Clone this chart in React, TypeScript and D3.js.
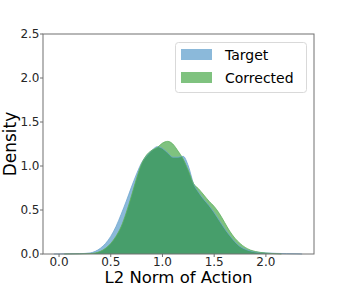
import React from 'react';
import * as d3 from 'd3';

const targetX = [-0.05, 0.0, 0.1, 0.2, 0.3, 0.35, 0.4, 0.45, 0.5, 0.55, 0.6, 0.65, 0.7, 0.75, 0.8, 0.85, 0.9, 0.95, 1.0, 1.05, 1.1, 1.15, 1.2, 1.25, 1.3, 1.35, 1.4, 1.45, 1.5, 1.55, 1.6, 1.65, 1.7, 1.75, 1.8, 1.85, 1.9, 2.0, 2.1, 2.2, 2.3, 2.35];
const targetY = [0, 0.001, 0.002, 0.004, 0.012, 0.03, 0.065, 0.12, 0.2, 0.31, 0.45, 0.6, 0.76, 0.91, 1.04, 1.12, 1.18, 1.22, 1.2, 1.15, 1.1, 1.1, 1.11, 1.0, 0.8, 0.7, 0.62, 0.55, 0.47, 0.38, 0.29, 0.21, 0.14, 0.085, 0.055, 0.035, 0.022, 0.012, 0.007, 0.004, 0.002, 0];

const correctedX = [0.05, 0.2, 0.3, 0.35, 0.4, 0.45, 0.5, 0.55, 0.6, 0.65, 0.7, 0.75, 0.8, 0.85, 0.9, 0.95, 1.0, 1.05, 1.1, 1.15, 1.2, 1.25, 1.3, 1.35, 1.4, 1.45, 1.5, 1.55, 1.6, 1.65, 1.7, 1.75, 1.8, 1.85, 1.9, 2.0, 2.1, 2.15];
const correctedY = [0, 0.002, 0.005, 0.012, 0.03, 0.065, 0.12, 0.2, 0.31, 0.47, 0.66, 0.86, 1.03, 1.13, 1.18, 1.21, 1.26, 1.28, 1.25, 1.17, 1.08, 0.95, 0.8, 0.74, 0.67, 0.6, 0.54, 0.46, 0.36, 0.26, 0.18, 0.12, 0.075, 0.045, 0.028, 0.011, 0.003, 0];

const xTicks = [0.0, 0.5, 1.0, 1.5, 2.0];
const yTicks = [0.0, 0.5, 1.0, 1.5, 2.0, 2.5];
const legendLabels = ['Target', 'Corrected'];

const W = 349;
const H = 286;
const left = 43, right = 314, top = 34, bottom = 254;

export default function App() {
  const x = d3.scaleLinear().domain([-0.155, 2.465]).range([left, right]);
  const y = d3.scaleLinear().domain([0, 2.5]).range([bottom, top]);

  const area = d3.area<[number, number]>()
    .x(d => x(d[0]))
    .y0(y(0))
    .y1(d => y(d[1]))
    .curve(d3.curveMonotoneX);
  const line = d3.line<[number, number]>()
    .x(d => x(d[0]))
    .y(d => y(d[1]))
    .curve(d3.curveMonotoneX);

  const target = targetX.map((v, i) => [v, targetY[i]] as [number, number]);
  const corrected = correctedX.map((v, i) => [v, correctedY[i]] as [number, number]);

  const font = 'DejaVu Sans, sans-serif';
  const legendColors = ['#8bb9da', '#7fc27f'];

  return (
    <svg width={W} height={H} style={{ position: 'absolute', left: 0, top: 0, background: '#fff' }} fontFamily={font}>
      <defs>
        <clipPath id="targetClip">
          <path d={area(target) || ''} />
        </clipPath>
      </defs>
      <path d={area(target) || ''} fill="#8bb9da" />
      <path d={area(corrected) || ''} fill="#7fc27f" />
      <path d={area(corrected) || ''} fill="#479e6b" clipPath="url(#targetClip)" />
      <path d={line(target) || ''} fill="none" stroke="#6fa6cf" strokeWidth={0.8} />
      <path d={line(corrected) || ''} fill="none" stroke="#5fb05f" strokeWidth={0.8} />

      {/* spines */}
      <rect x={left} y={top} width={right - left} height={bottom - top} fill="none" stroke="#707070" strokeWidth={1} />

      {xTicks.map(t => (
        <g key={'x' + t}>
          <line x1={x(t)} x2={x(t)} y1={bottom} y2={bottom + 3} stroke="#707070" />
          <text x={x(t)} y={265.5} fontSize={12} textAnchor="middle" fill="#262626">{t.toFixed(1)}</text>
        </g>
      ))}
      {yTicks.map(t => (
        <g key={'y' + t}>
          <line x1={left - 3} x2={left} y1={y(t)} y2={y(t)} stroke="#707070" />
          <text x={39.5} y={y(t)} dy="0.36em" fontSize={12} textAnchor="end" fill="#262626">{t.toFixed(1)}</text>
        </g>
      ))}

      <text x={(left + right) / 2} y={282.5} fontSize={16.5} textAnchor="middle" fill="#000">L2 Norm of Action</text>
      <text transform={`translate(16,${(top + bottom) / 2}) rotate(-90)`} fontSize={17} textAnchor="middle" fill="#000">Density</text>

      {/* legend */}
      <rect x={175.5} y={42.5} width={131} height={50} rx={3} fill="#fff" fillOpacity={0.8} stroke="#d9d9d9" />
      {legendLabels.map((l, i) => (
        <g key={l}>
          <rect x={181} y={49 + i * 23} width={31} height={11} fill={legendColors[i]} />
          <text x={225} y={59.5 + i * 23} fontSize={14} fill="#000">{l}</text>
        </g>
      ))}
    </svg>
  );
}
